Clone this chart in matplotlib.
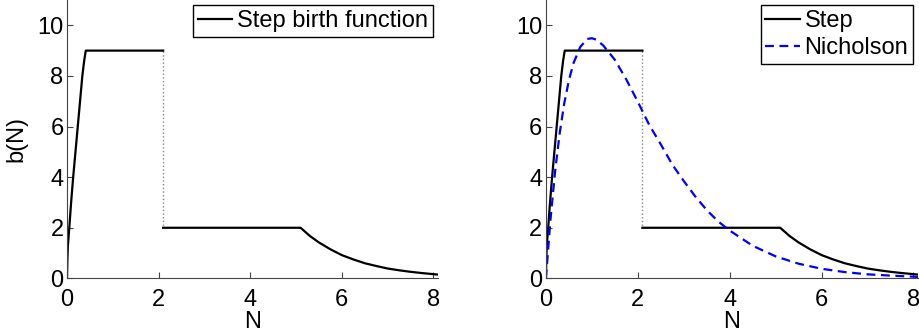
import matplotlib
matplotlib.use("Agg")
import matplotlib.pyplot as plt

plt.rcParams["font.family"] = ["Liberation Sans", "DejaVu Sans"]
plt.rcParams["font.size"] = 17

# step birth function (two pieces around the jump)
step_n_a = [0.0, 0.01, 0.02, 0.05, 0.09, 0.135, 0.185, 0.235, 0.285, 0.335, 0.375, 0.41, 2.1]
step_b_a = [0.0, 0.8, 1.3, 2.0, 3.0, 4.0, 5.0, 6.0, 7.0, 8.0, 8.6, 9.0, 9.0]
step_n_b = [2.1, 5.1, 5.3, 5.5, 5.75, 6.0, 6.25, 6.5, 6.75, 7.0, 7.25, 7.5, 7.75, 8.1]
step_b_b = [2.0, 2.0, 1.68, 1.42, 1.15, 0.92, 0.75, 0.6, 0.49, 0.39, 0.32, 0.26, 0.21, 0.15]
jump_n = [2.1, 2.1]
jump_b = [9.0, 2.0]

# Nicholson birth function
nich_n = [0.0, 0.1, 0.2, 0.3, 0.4, 0.5, 0.6, 0.75, 0.9, 1.0, 1.1, 1.25, 1.5, 1.75, 2.0,
          2.25, 2.5, 2.75, 3.0, 3.25, 3.5, 3.75, 4.0, 4.5, 5.0, 5.5, 6.0, 6.5, 7.0, 7.5, 8.1]
nich_b = [0.0, 2.33, 4.22, 5.73, 6.92, 7.82, 8.5, 9.15, 9.46, 9.49, 9.43, 9.2, 8.64, 7.86, 6.98,
          6.06, 5.3, 4.5, 3.85, 3.24, 2.7, 2.25, 1.89, 1.29, 0.87, 0.58, 0.38, 0.25, 0.16, 0.11, 0.06]

XTICKS = [0, 2, 4, 6, 8]
YTICKS = [0, 2, 4, 6, 8, 10]
SPINE = "#444444"


def style_axes(ax):
    ax.set_xlim(0, 8.1)
    ax.set_ylim(0, 11)
    ax.set_xticks(XTICKS)
    ax.set_yticks(YTICKS)
    ax.spines["top"].set_visible(False)
    ax.spines["right"].set_visible(False)
    for s in ("left", "bottom"):
        ax.spines[s].set_color(SPINE)
        ax.spines[s].set_linewidth(0.8)
    ax.tick_params(direction="in", length=4, width=0.8, color=SPINE)
    ax.tick_params(axis="x", pad=7.5)
    ax.tick_params(axis="y", pad=2.5)
    ax.set_xlabel("N", labelpad=0)


def plot_step(ax, label):
    ax.plot(jump_n, jump_b, color="#888888", linestyle=":", linewidth=1.0)
    line, = ax.plot(step_n_a, step_b_a, color="black", linewidth=1.6, label=label)
    ax.plot(step_n_b, step_b_b, color="black", linewidth=1.6)
    return line


def add_legend(ax):
    leg = ax.legend(loc="upper right", fancybox=False, edgecolor="black", framealpha=1,
                    borderpad=0.2, handlelength=1.45, handletextpad=0.2,
                    borderaxespad=0.22, labelspacing=0.22)
    leg.get_frame().set_linewidth(1.0)
    return leg


fig = plt.figure(figsize=(9.19, 3.35), dpi=100)
ax1 = fig.add_axes([0.0729, 0.169, 0.4037, 0.831])
ax2 = fig.add_axes([0.594, 0.169, 0.4050, 0.831])

plot_step(ax1, "Step birth function")
style_axes(ax1)
ax1.set_ylabel("b(N)", labelpad=7)
add_legend(ax1)

plot_step(ax2, "Step")
ax2.plot(nich_n, nich_b, color="#0000ff", linestyle="--", dashes=(4, 2.5),
         linewidth=1.6, label="Nicholson")
style_axes(ax2)
add_legend(ax2)

fig.savefig("out.png", dpi=100)
